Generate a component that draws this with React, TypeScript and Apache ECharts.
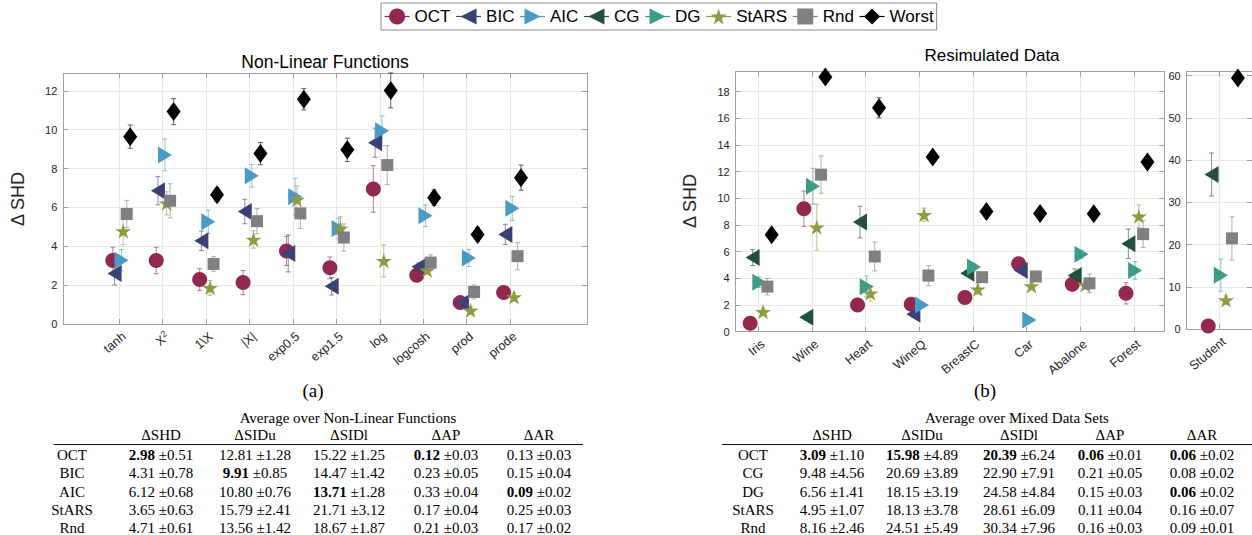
import React, { useEffect, useRef } from 'react';
import * as echarts from 'echarts';

// ---------------- data ----------------
const methods = ['OCT', 'BIC', 'AIC', 'CG', 'DG', 'StARS', 'Rnd', 'Worst'];

// Non-linear functions (left panel)
const nlCategories = ['tanh', 'X^2', '1\\X', '|X|', 'exp0.5', 'exp1.5', 'log', 'logcosh', 'prod', 'prode'];
const nlOCT = [3.27, 3.27, 2.29, 2.13, 3.76, 2.89, 6.95, 2.51, 1.10, 1.62];
const nlOCTErr = [0.68, 0.68, 0.56, 0.62, 0.75, 0.56, 1.2, 0.2, 0.2, 0.2];
const nlBIC = [2.6, 6.86, 4.28, 5.79, 3.63, 1.94, 9.33, 2.94, 1.08, 4.61];
const nlBICErr = [0.6, 0.73, 0.5, 0.63, 0.95, 0.45, 0.75, 0.2, 0.2, 0.52];
const nlAIC = [3.28, 8.7, 5.26, 7.63, 6.55, 4.92, 9.94, 5.57, 3.4, 5.95];
const nlAICErr = [0.55, 0.82, 0.6, 0.58, 0.95, 0.52, 0.77, 0.56, 0.44, 0.62];
const nlStARS = [4.78, 6.21, 1.86, 4.35, 6.41, 4.92, 3.25, 2.77, 0.7, 1.39];
const nlStARSErr = [0.7, 0.6, 0.38, 0.45, 0.7, 0.6, 0.83, 0.2, 0.2, 0.2];
const nlRnd = [5.66, 6.34, 3.09, 5.29, 5.69, 4.45, 8.18, 3.16, 1.65, 3.49];
const nlRndErr = [0.7, 0.88, 0.38, 0.65, 0.78, 0.7, 1.0, 0.4, 0.36, 0.7];
const nlWorst = [9.64, 10.93, 6.65, 8.77, 11.57, 8.96, 12.02, 6.5, 4.61, 7.53];
const nlWorstErr = [0.6, 0.67, 0.35, 0.57, 0.55, 0.6, 0.9, 0.4, 0.35, 0.65];

// Resimulated data (right panel)
const rsCategories = ['Iris', 'Wine', 'Heart', 'WineQ', 'BreastC', 'Car', 'Abalone', 'Forest'];
const rsOCT = [0.63, 9.22, 2.0, 2.05, 2.56, 5.09, 3.56, 2.88];
const rsOCTErr = [0.2, 1.33, 0.2, 0.2, 0.2, 0.2, 0.2, 0.8];
const rsBIC = [null, null, null, 1.3, null, 4.59, null, null];
const rsBICErr = [null, null, null, 0.2, null, 0.2, null, null];
const rsAIC = [null, null, null, 2.0, null, 0.88, null, null];
const rsAICErr = [null, null, null, 0.2, null, 0.2, null, null];
const rsCG = [5.56, 1.08, 8.22, null, 4.39, null, 4.21, 6.59];
const rsCGErr = [0.6, 0.2, 1.19, null, 0.2, null, 0.5, 1.1];
const rsDG = [3.71, 10.9, 3.38, null, 4.85, null, 5.81, 4.59];
const rsDGErr = [0.4, 1.35, 0.8, null, 0.3, null, 0.3, 0.66];
const rsStARS = [1.5, 7.84, 2.88, 8.77, 3.18, 3.43, 3.51, 8.65];
const rsStARSErr = [0.2, 1.72, 0.6, 0.5, 0.4, 0.2, 0.3, 0.85];
const rsRnd = [3.38, 11.78, 5.64, 4.21, 4.09, 4.14, 3.63, 7.32];
const rsRndErr = [0.62, 1.4, 1.08, 0.75, 0.3, 0.3, 0.7, 1.0];
const rsWorst = [7.27, 19.1, 16.8, 13.1, 9.02, 8.87, 8.85, 12.73];
const rsWorstErr = [0.3, 0.3, 0.75, 0.3, 0.3, 0.3, 0.3, 0.3];

// Student data set (right-most panel)
const stCategories = ['Student'];
const stOCT = [0.79];
const stOCTErr = [0.5];
const stCG = [36.6];
const stCGErr = [5.1];
const stDG = [12.8];
const stDGErr = [3.8];
const stStARS = [6.9];
const stStARSErr = [1.0];
const stRnd = [21.5];
const stRndErr = [5.1];
const stWorst = [59.4];
const stWorstErr = [1.0];

// Tables
const tblColumns = ['ΔSHD', 'ΔSIDu', 'ΔSIDl', 'ΔAP', 'ΔAR'];
const tblATitle = 'Average over Non-Linear Functions';
const tblARows = ['OCT', 'BIC', 'AIC', 'StARS', 'Rnd'];
const tblAMean = [
  [2.98, 12.81, 15.22, 0.12, 0.13],
  [4.31, 9.91, 14.47, 0.23, 0.15],
  [6.12, 10.8, 13.71, 0.33, 0.09],
  [3.65, 15.79, 21.71, 0.17, 0.25],
  [4.71, 13.56, 18.67, 0.21, 0.17],
];
const tblAStd = [
  [0.51, 1.28, 1.25, 0.03, 0.03],
  [0.78, 0.85, 1.42, 0.05, 0.04],
  [0.68, 0.76, 1.28, 0.04, 0.02],
  [0.63, 2.41, 3.12, 0.04, 0.03],
  [0.61, 1.42, 1.87, 0.03, 0.02],
];
const tblBTitle = 'Average over Mixed Data Sets';
const tblBRows = ['OCT', 'CG', 'DG', 'StARS', 'Rnd'];
const tblBMean = [
  [3.09, 15.98, 20.39, 0.06, 0.06],
  [9.48, 20.69, 22.9, 0.21, 0.08],
  [6.56, 18.15, 24.58, 0.15, 0.06],
  [4.95, 18.13, 28.61, 0.11, 0.16],
  [8.16, 24.51, 30.34, 0.16, 0.09],
];
const tblBStd = [
  [1.1, 4.89, 6.24, 0.01, 0.02],
  [4.56, 3.89, 7.91, 0.05, 0.02],
  [1.41, 3.19, 4.84, 0.03, 0.02],
  [1.07, 3.78, 6.09, 0.04, 0.07],
  [2.46, 5.49, 7.96, 0.03, 0.01],
];

// ---------------- styles ----------------
const SANS = '"Liberation Sans", Arial, Helvetica, sans-serif';
const SERIF = '"Liberation Serif", "Times New Roman", Times, serif';
const AXC = '#a0a0a0';
const GRIDC = '#e8e8e8';
const TXT = '#262626';

const colors: Record<string, string> = {
  OCT: '#92284f',
  BIC: '#3a4175',
  AIC: '#4a9bc3',
  CG: '#22503a',
  DG: '#3c9c88',
  StARS: '#8f9a42',
  Rnd: '#808080',
  Worst: '#000000',
};
const offsets: Record<string, number> = {
  OCT: -0.15, BIC: -0.11, AIC: 0.05, CG: -0.105, DG: 0.02, StARS: 0.09, Rnd: 0.17, Worst: 0.25,
};
const STAR = 'path://M50,0 L61.2,34.5 L97.6,34.5 L68.2,55.9 L79.4,90.5 L50,69.1 L20.6,90.5 L31.8,55.9 L2.4,34.5 L38.8,34.5 Z';
const LEFT_TRI = 'path://M0,8 L14,0 L14,16 Z';
const RIGHT_TRI = 'path://M14,8 L0,0 L0,16 Z';
const symbols: Record<string, any> = {
  OCT: ['circle', 15], BIC: [LEFT_TRI, [14, 17]], AIC: [RIGHT_TRI, [14, 17]], CG: [LEFT_TRI, [14, 17]],
  DG: [RIGHT_TRI, [14, 17]], StARS: [STAR, [16, 15]], Rnd: ['rect', 12], Worst: ['diamond', [14, 19]],
};

function addMethod(series: any[], m: string, ys: (number | null)[], errs: (number | null)[], axisIdx: number) {
  const pts: number[][] = [];
  const ebs: number[][] = [];
  ys.forEach((y, i) => {
    if (y == null) return;
    const x = i + 1 + offsets[m];
    pts.push([x, y]);
    ebs.push([x, y, errs[i] as number]);
  });
  const c = colors[m];
  series.push({
    type: 'custom', name: m + ' err', xAxisIndex: axisIdx * 2, yAxisIndex: axisIdx * 2, z: 2, silent: true,
    encode: { x: 0, y: 1 },
    data: ebs,
    renderItem: (params: any, api: any) => {
      const x = api.value(0), y = api.value(1), e = api.value(2);
      const t = api.coord([x, y + e]);
      const b = api.coord([x, y - e]);
      const cw = 2.5;
      const st = { stroke: c, lineWidth: 1.1, opacity: 0.55 };
      return {
        type: 'group',
        children: [
          { type: 'line', shape: { x1: t[0], y1: t[1], x2: b[0], y2: b[1] }, style: st },
          { type: 'line', shape: { x1: t[0] - cw, y1: t[1], x2: t[0] + cw, y2: t[1] }, style: st },
          { type: 'line', shape: { x1: b[0] - cw, y1: b[1], x2: b[0] + cw, y2: b[1] }, style: st },
        ],
      };
    },
  });
  series.push({
    type: 'line', name: m, xAxisIndex: axisIdx * 2, yAxisIndex: axisIdx * 2, z: 3, silent: true,
    data: pts,
    symbol: symbols[m][0], symbolSize: symbols[m][1],
    itemStyle: { color: c, opacity: 1 },
    lineStyle: { color: c, width: 0, opacity: 0 },
    emphasis: { disabled: true },
  });
}

// "X^2" -> base text with a raised superscript
function labelRich(s: string) {
  const k = s.indexOf('^');
  if (k < 0) return '{n|' + s + '}';
  return '{n|' + s.slice(0, k) + '}{s|' + s.slice(k + 1) + '}';
}

function xAxes(gridIndex: number, min: number, max: number, labels: string[]) {
  const ticks = labels.map((_, i) => i + 1);
  return [
    {
      type: 'value', gridIndex, min, max, position: 'bottom',
      axisLine: { show: true, onZero: false, lineStyle: { color: AXC } },
      axisTick: { show: true, inside: true, length: 5, customValues: ticks, lineStyle: { color: AXC } },
      axisLabel: {
        customValues: ticks, formatter: (v: number) => labelRich(labels[Math.round(v) - 1] ?? ''),
        rotate: 40, fontSize: 12.5, color: TXT, fontFamily: SANS, margin: 5,
        align: 'right', verticalAlign: 'top',
        rich: {
          n: { fontSize: 12.5, fontFamily: SANS, color: TXT, lineHeight: 15 },
          s: { fontSize: 9, fontFamily: SANS, color: TXT, verticalAlign: 'top', lineHeight: 15, padding: [0, 0, 6, 0] },
        },
      },
      splitLine: { show: true, lineStyle: { color: GRIDC } },
    },
    {
      type: 'value', gridIndex, min, max, position: 'top',
      axisLine: { show: true, onZero: false, lineStyle: { color: AXC } },
      axisTick: { show: true, inside: true, length: 5, customValues: ticks, lineStyle: { color: AXC } },
      axisLabel: { show: false },
      splitLine: { show: false },
    },
  ];
}

function yAxes(gridIndex: number, max: number, interval: number) {
  return [
    {
      type: 'value', gridIndex, min: 0, max, interval, position: 'left',
      axisLine: { show: true, onZero: false, lineStyle: { color: AXC } },
      axisTick: { show: true, inside: true, length: 5, lineStyle: { color: AXC } },
      axisLabel: { fontSize: 11, color: TXT, fontFamily: SANS, margin: 6, showMaxLabel: false },
      splitLine: { show: true, lineStyle: { color: GRIDC } },
    },
    {
      type: 'value', gridIndex, min: 0, max, interval, position: 'right',
      axisLine: { show: true, onZero: false, lineStyle: { color: AXC } },
      axisTick: { show: true, inside: true, length: 5, lineStyle: { color: AXC } },
      axisLabel: { show: false },
      splitLine: { show: false },
    },
  ];
}

function txt(text: string, x: number, y: number, fontSize: number, family: string, extra: any = {}) {
  return {
    type: 'text', x, y, rotation: extra.rotation || 0, silent: true,
    style: {
      text, fontSize, fontFamily: family, fill: extra.fill || '#000', fontWeight: extra.fontWeight || 'normal',
      align: extra.align || 'center', textAlign: extra.align || 'center',
      verticalAlign: 'middle', textVerticalAlign: 'middle',
      rich: extra.rich,
    },
  };
}

function tableGraphics(labelX: number, colX: number[], titleX: number, ruleX1: number, ruleX2: number,
  title: string, rows: string[], means: number[][], stds: number[][]) {
  const els: any[] = [];
  const fs = 15;
  els.push(txt(title, titleX, 418, fs, SERIF));
  tblColumns.forEach((c, j) => els.push(txt(c, colX[j], 435, fs, SERIF)));
  els.push({ type: 'line', silent: true, shape: { x1: ruleX1, y1: 444.5, x2: ruleX2, y2: 444.5 }, style: { stroke: '#111', lineWidth: 1.2 } });
  const mins = tblColumns.map((_, j) => Math.min(...means.map((r) => r[j])));
  const rich = {
    b: { fontWeight: 'bold', fontSize: fs, fontFamily: SERIF, fill: '#000' },
    n: { fontWeight: 'normal', fontSize: fs, fontFamily: SERIF, fill: '#000' },
  };
  rows.forEach((r, i) => {
    const y = 455 + i * 18.3;
    els.push(txt(r, labelX, y, fs, SERIF));
    means[i].forEach((v, j) => {
      const isBest = v === mins[j];
      const s = (isBest ? '{b|' + v.toFixed(2) + '}' : '{n|' + v.toFixed(2) + '}') + '{n| ±' + stds[i][j].toFixed(2) + '}';
      els.push(txt(s, colX[j], y, fs, SERIF, { rich }));
    });
  });
  return els;
}

export default function App() {
  const ref = useRef<HTMLDivElement>(null);
  useEffect(() => {
    if (!ref.current) return;
    const chart = echarts.init(ref.current, undefined, { renderer: 'svg' });
    const series: any[] = [];
    // left panel (axis pair 0)
    addMethod(series, 'OCT', nlOCT, nlOCTErr, 0);
    addMethod(series, 'BIC', nlBIC, nlBICErr, 0);
    addMethod(series, 'AIC', nlAIC, nlAICErr, 0);
    addMethod(series, 'StARS', nlStARS, nlStARSErr, 0);
    addMethod(series, 'Rnd', nlRnd, nlRndErr, 0);
    addMethod(series, 'Worst', nlWorst, nlWorstErr, 0);
    // right panel (axis pair 1)
    addMethod(series, 'OCT', rsOCT, rsOCTErr, 1);
    addMethod(series, 'BIC', rsBIC, rsBICErr, 1);
    addMethod(series, 'AIC', rsAIC, rsAICErr, 1);
    addMethod(series, 'CG', rsCG, rsCGErr, 1);
    addMethod(series, 'DG', rsDG, rsDGErr, 1);
    addMethod(series, 'StARS', rsStARS, rsStARSErr, 1);
    addMethod(series, 'Rnd', rsRnd, rsRndErr, 1);
    addMethod(series, 'Worst', rsWorst, rsWorstErr, 1);
    // student panel (axis pair 2)
    addMethod(series, 'OCT', stOCT, stOCTErr, 2);
    addMethod(series, 'CG', stCG, stCGErr, 2);
    addMethod(series, 'DG', stDG, stDGErr, 2);
    addMethod(series, 'StARS', stStARS, stStARSErr, 2);
    addMethod(series, 'Rnd', stRnd, stRndErr, 2);
    addMethod(series, 'Worst', stWorst, stWorstErr, 2);

    const option: any = {
      animation: false,
      backgroundColor: '#fff',
      legend: {
        data: methods, left: 381, top: 3, orient: 'horizontal',
        padding: [5, 3, 5, 3], itemWidth: 25, itemHeight: 20, itemGap: 5,
        borderColor: '#8a8a8a', borderWidth: 1, backgroundColor: '#fff',
        textStyle: { fontSize: 17, fontFamily: SANS, color: '#000' },
        lineStyle: { width: 1.2, opacity: 1, color: 'inherit' },
        selectedMode: false,
      },
      grid: [
        { left: 63.3, top: 73.3, width: 523.7, height: 250.7, containLabel: false },
        { left: 735.7, top: 71.7, width: 428.6, height: 260, containLabel: false },
        { left: 1186.7, top: 71.3, width: 75, height: 258, containLabel: false },
      ],
      xAxis: [
        ...xAxes(0, -0.29, 11.77, nlCategories),
        ...xAxes(1, 0.58, 8.564, rsCategories),
        ...xAxes(2, 0.56, 1.44, stCategories),
      ],
      yAxis: [
        ...yAxes(0, 12.9, 2),
        ...yAxes(1, 19.5, 2),
        ...yAxes(2, 61, 10),
      ],
      series,
      graphic: [
        txt('Non-Linear Functions', 325, 61.5, 17.5, SANS),
        txt('Resimulated Data', 992, 55.5, 17, SANS),
        txt('Δ SHD', 17.5, 199, 18, SANS, { rotation: Math.PI / 2, fill: TXT }),
        txt('Δ SHD', 690, 201, 18, SANS, { rotation: Math.PI / 2, fill: TXT }),
        txt('(a)', 313, 390, 19, SERIF),
        txt('(b)', 985, 390, 19, SERIF),
        ...tableGraphics(72, [161, 255, 349, 446, 539], 348, 53.6, 583, tblATitle, tblARows, tblAMean, tblAStd),
        ...tableGraphics(753, [832, 922, 1019, 1110, 1202], 1017, 722, 1252, tblBTitle, tblBRows, tblBMean, tblBStd),
      ],
    };
    chart.setOption(option);
    return () => chart.dispose();
  }, []);
  return <div ref={ref} style={{ position: 'fixed', left: 0, top: 0, width: 1252, height: 535 }} />;
}
